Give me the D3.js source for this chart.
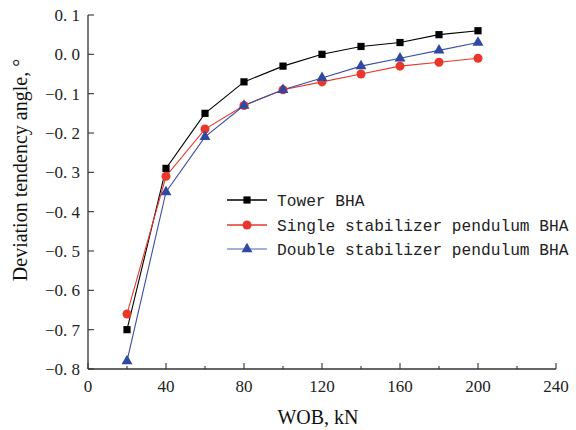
<!DOCTYPE html>
<html>
<head>
<meta charset="utf-8">
<script src="https://cdn.jsdelivr.net/npm/d3@7/dist/d3.min.js"></script>
<style>
  html, body { margin: 0; padding: 0; background: #fff; }
  svg { display: block; }
</style>
</head>
<body>
<svg id="chart" width="576" height="430"></svg>
<script>
// WOB values (kN)
const wob = [20, 40, 60, 80, 100, 120, 140, 160, 180, 200];
// Deviation tendency angle (°) per BHA type
const towerBHA  = [-0.70, -0.29, -0.15, -0.07, -0.03, 0.00, 0.02, 0.03, 0.05, 0.06];
const singleBHA = [-0.66, -0.31, -0.19, -0.13, -0.09, -0.07, -0.05, -0.03, -0.02, -0.01];
const doubleBHA = [-0.78, -0.35, -0.21, -0.13, -0.09, -0.06, -0.03, -0.01, 0.01, 0.03];
const seriesNames = ["Tower BHA", "Single stabilizer pendulum BHA", "Double stabilizer pendulum BHA"];
// Axis ticks
const xTicks = [0, 40, 80, 120, 160, 200, 240];
const xMinorTicks = [20, 60, 100, 140, 180, 220];
const yTicks = [0.1, 0.0, -0.1, -0.2, -0.3, -0.4, -0.5, -0.6, -0.7, -0.8];

const series = [
  { name: seriesNames[0], values: towerBHA,  line: "#000000", legendLine: "#000000", fill: "#000000", shape: d3.symbolSquare, size: 52 },
  { name: seriesNames[1], values: singleBHA, line: "#e8382c", legendLine: "#e8382c", fill: "#e8382c", shape: d3.symbolCircle, size: 64 },
  { name: seriesNames[2], values: doubleBHA, line: "#3a4fa8", legendLine: "#8a96cc", fill: "#2f48a2", shape: d3.symbolTriangle, size: 52 }
];

const svg = d3.select("#chart");
const x = d3.scaleLinear().domain([0, 240]).range([88, 556]);
const y = d3.scaleLinear().domain([-0.8, 0.1]).range([369, 15]);

const axisColor = "#333";
const tickFont = "Liberation Serif, DejaVu Serif, serif";

// X axis: inward major ticks, short minor ticks
const gx = svg.append("g").attr("transform", `translate(0,${y(-0.8)})`);
gx.append("line").attr("x1", x(0)).attr("x2", x(240)).attr("stroke", axisColor).attr("stroke-width", 1.3);
gx.selectAll(".xmaj").data(xTicks).join("line")
  .attr("x1", d => x(d)).attr("x2", d => x(d)).attr("y1", 0).attr("y2", -6)
  .attr("stroke", axisColor).attr("stroke-width", 1.1);
gx.selectAll(".xmin").data(xMinorTicks).join("line")
  .attr("x1", d => x(d)).attr("x2", d => x(d)).attr("y1", 0).attr("y2", -3)
  .attr("stroke", axisColor).attr("stroke-width", 1.1);
gx.selectAll("text").data(xTicks).join("text")
  .attr("x", d => x(d)).attr("y", 23)
  .attr("text-anchor", "middle")
  .style("font-family", tickFont).attr("font-size", 17).attr("fill", "#222")
  .text(d => d);

// Y axis
const gy = svg.append("g").attr("transform", `translate(${x(0)},0)`);
gy.append("line").attr("y1", y(0.1)).attr("y2", y(-0.8)).attr("stroke", axisColor).attr("stroke-width", 1.3);
gy.selectAll(".ymaj").data(yTicks).join("line")
  .attr("y1", d => y(d)).attr("y2", d => y(d)).attr("x1", 0).attr("x2", 6)
  .attr("stroke", axisColor).attr("stroke-width", 1.1);
gy.selectAll("text").data(yTicks).join("text")
  .attr("x", -8).attr("y", d => y(d)).attr("dy", "0.35em")
  .attr("text-anchor", "end")
  .style("font-family", tickFont).attr("font-size", 17).attr("fill", "#222")
  .text(d => d3.format(".1f")(d).replace("-", "\u2212").replace(".", ". "));

// Axis titles
svg.append("text")
  .attr("x", 318).attr("y", 424)
  .attr("text-anchor", "middle")
  .style("font-family", tickFont).attr("font-size", 20).attr("fill", "#111")
  .text("WOB, kN");
svg.append("text")
  .attr("transform", "translate(27,170) rotate(-90)")
  .attr("text-anchor", "middle")
  .style("font-family", tickFont).attr("font-size", 20).attr("fill", "#111")
  .text("Deviation tendency angle, °");

// Series lines and markers
const lineGen = d3.line().x((d, i) => x(wob[i])).y(d => y(d));
series.forEach(s => {
  svg.append("path")
    .attr("d", lineGen(s.values))
    .attr("fill", "none").attr("stroke", s.line).attr("stroke-width", 1.1);
});
series.forEach(s => {
  svg.selectAll(null).data(s.values).join("path")
    .attr("transform", (d, i) => `translate(${x(wob[i])},${y(d)})`)
    .attr("d", d3.symbol().type(s.shape).size(s.size))
    .attr("fill", s.fill);
});

// Legend
const legendRows = [200, 225, 249];
const lg = svg.append("g");
series.forEach((s, i) => {
  const ry = legendRows[i];
  lg.append("line").attr("x1", 227).attr("x2", 267).attr("y1", ry).attr("y2", ry)
    .attr("stroke", s.legendLine).attr("stroke-width", 1.3);
  lg.append("path").attr("transform", `translate(247,${ry})`)
    .attr("d", d3.symbol().type(s.shape).size(s.size)).attr("fill", s.fill);
  lg.append("text")
    .attr("x", 277).attr("y", ry).attr("dy", "0.35em")
    .style("font-family", "Liberation Mono, DejaVu Sans Mono, monospace")
    .attr("font-size", 16.2).attr("fill", "#222")
    .text(s.name);
});
</script>
</body>
</html>
